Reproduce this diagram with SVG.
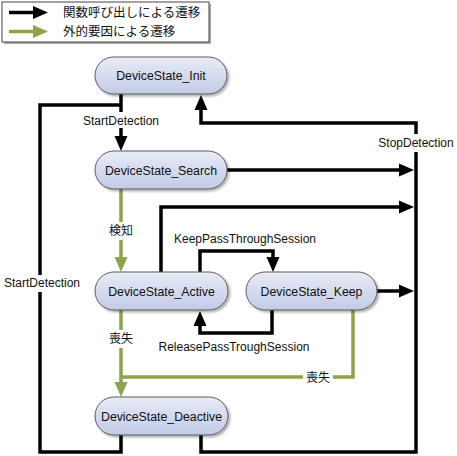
<svg xmlns="http://www.w3.org/2000/svg" width="457" height="456" viewBox="0 0 457 456">
<style>
.node rect{fill:url(#g);stroke:#5a5a5a;stroke-width:1;filter:url(#sh)}
.node text,.lbl,.leg{font-family:"Liberation Sans","Noto Sans CJK JP",sans-serif;fill:#111}
.node text{font-size:12.3px;text-anchor:middle}
.lbl{font-size:12px;text-anchor:middle}
.leg{font-size:12.5px}
.k{fill:none;stroke:#000;stroke-width:3.5;stroke-linejoin:miter}
.gr{fill:none;stroke:#8CA44A;stroke-width:3.5;stroke-linejoin:miter}
.bg{fill:#fff}
</style>
<defs>
<linearGradient id="g" x1="0" y1="0" x2="0" y2="1">
<stop offset="0" stop-color="#e8ecf7"/>
<stop offset="1" stop-color="#c2cae6"/>
</linearGradient>
<filter id="sh" x="-10%" y="-20%" width="125%" height="150%">
<feDropShadow dx="2" dy="2" stdDeviation="1.2" flood-color="#000" flood-opacity="0.3"/>
</filter>
<marker id="ak" markerUnits="userSpaceOnUse" markerWidth="16" markerHeight="14" viewBox="0 0 16 14" refX="1" refY="7" orient="auto">
<path d="M0,0.5 L15,7 L0,13.5 z" fill="#000"/>
</marker>
<marker id="ag" markerUnits="userSpaceOnUse" markerWidth="16" markerHeight="14" viewBox="0 0 16 14" refX="1" refY="7" orient="auto">
<path d="M0,0.5 L15,7 L0,13.5 z" fill="#8CA44A"/>
</marker>
</defs>
<rect width="457" height="456" fill="#fff"/>

<g id="legend">
<rect x="4" y="4" width="207" height="40" fill="#aaa"/>
<rect x="2" y="2" width="207" height="40" fill="#fff" stroke="#444" stroke-width="1"/>
<path class="k" d="M9,12.5 H34" marker-end="url(#ak)"/>
<path class="gr" d="M9,31.5 H34" marker-end="url(#ag)"/>
<text class="leg" x="63" y="17">関数呼び出しによる遷移</text>
<text class="leg" x="63" y="36">外的要因による遷移</text>
</g>

<g id="connectors">
<path class="k" d="M121,94 V137" marker-end="url(#ak)"/>
<path class="k" d="M121,435 V452 H40 V105 H121"/>
<path class="k" d="M201,435 V452 H416 V123 H201 V109" marker-end="url(#ak)"/>
<path class="k" d="M227,170 H400" marker-end="url(#ak)"/>
<path class="k" d="M161,272 V207 H400" marker-end="url(#ak)"/>
<path class="k" d="M377,291 H400" marker-end="url(#ak)"/>
<path class="k" d="M200,272 V251 H273 V258" marker-end="url(#ak)"/>
<path class="k" d="M272,310 V333 H200 V325" marker-end="url(#ak)"/>
<path class="gr" d="M121,189 V258" marker-end="url(#ag)"/>
<path class="gr" d="M121,310 V383" marker-end="url(#ag)"/>
<path class="gr" d="M353,310 V377 H121"/>
</g>

<g id="labels">
<rect class="bg" x="78" y="112" width="86" height="16"/>
<text class="lbl" x="121" y="125">StartDetection</text>
<rect class="bg" x="2" y="275" width="82" height="17"/>
<text class="lbl" x="42" y="287">StartDetection</text>
<rect class="bg" x="376" y="134" width="80" height="18"/>
<text class="lbl" x="416" y="147">StopDetection</text>
<rect class="bg" x="106" y="222" width="30" height="18"/>
<text class="lbl" x="121" y="235">検知</text>
<rect class="bg" x="106" y="330" width="30" height="18"/>
<text class="lbl" x="121" y="343">喪失</text>
<rect class="bg" x="303" y="369" width="30" height="18"/>
<text class="lbl" x="318" y="382">喪失</text>
<text class="lbl" x="245" y="243">KeepPassThroughSession</text>
<text class="lbl" x="234" y="351">ReleasePassTroughSession</text>
</g>

<g id="DeviceState_Init" class="node">
<rect x="95" y="57" width="132" height="37" rx="18.5"/>
<text x="161" y="79.5">DeviceState_Init</text>
</g>
<g id="DeviceState_Search" class="node">
<rect x="95" y="151" width="132" height="38" rx="19"/>
<text x="161" y="174.5">DeviceState_Search</text>
</g>
<g id="DeviceState_Active" class="node">
<rect x="95" y="272" width="133" height="38" rx="19"/>
<text x="161.5" y="295.5">DeviceState_Active</text>
</g>
<g id="DeviceState_Keep" class="node">
<rect x="246" y="272" width="131" height="38" rx="19"/>
<text x="311.5" y="295.5">DeviceState_Keep</text>
</g>
<g id="DeviceState_Deactive" class="node">
<rect x="95" y="397" width="133" height="38" rx="19"/>
<text x="161.5" y="420.5">DeviceState_Deactive</text>
</g>
</svg>
